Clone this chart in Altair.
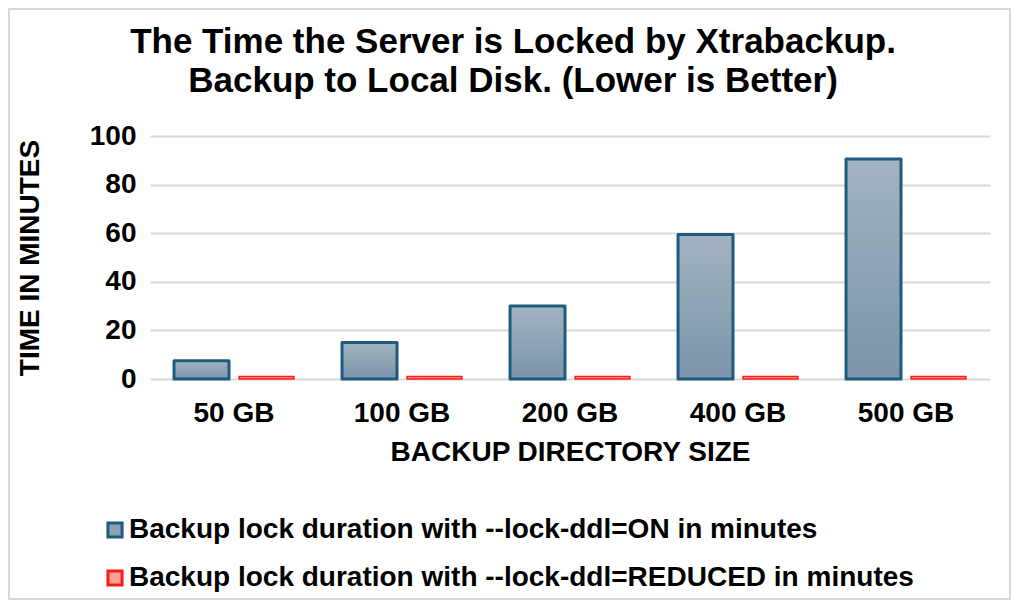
import altair as alt
import pandas as pd

sizes = ["50 GB", "100 GB", "200 GB", "400 GB", "500 GB"]
lock_on = [7.5, 15, 30, 59.5, 90.5]
lock_reduced = [1, 1, 1, 1, 1]
series_names = [
    "Backup lock duration with --lock-ddl=ON in minutes",
    "Backup lock duration with --lock-ddl=REDUCED in minutes",
]

rows = []
for s, v in zip(sizes, lock_on):
    rows.append({"size": s, "series": series_names[0], "minutes": v})
for s, v in zip(sizes, lock_reduced):
    rows.append({"size": s, "series": series_names[1], "minutes": v})
df = pd.DataFrame(rows)

FONT = "Liberation Sans"
FS = 28
W, H = 840, 243

x_enc = alt.X("size:N", sort=sizes, title="BACKUP DIRECTORY SIZE",
              scale=alt.Scale(paddingInner=0.286, paddingOuter=0.143),
              axis=alt.Axis(labelAngle=0, labelFontSize=FS, labelFontWeight="bold",
                            labelColor="#000000", labelPadding=20, ticks=False,
                            domain=False, titleFontSize=FS, titleFontWeight="bold",
                            titleColor="#000000", titlePadding=11))
xo_enc = alt.XOffset("series:N", sort=series_names,
                     scale=alt.Scale(paddingInner=0.154, paddingOuter=0))
y_enc = alt.Y("minutes:Q", title="TIME IN MINUTES",
              scale=alt.Scale(domain=[0, 100], nice=False),
              axis=alt.Axis(values=[0, 20, 40, 60, 80, 100], labelFontSize=FS,
                            labelFontWeight="bold", labelColor="#000000",
                            labelPadding=14, ticks=False, domain=False,
                            gridColor="#D9D9D9", gridWidth=2,
                            titleFontSize=FS, titleFontWeight="bold",
                            titleColor="#000000", titlePadding=45))

base = alt.Chart(df).encode(x=x_enc, xOffset=xo_enc, y=y_enc)

legend = alt.Legend(title=None, orient="none", legendX=-49, legendY=380,
                    direction="vertical", symbolType="square",
                    symbolSize=200, symbolStrokeWidth=3,
                    labelFontSize=FS, labelFontWeight="bold",
                    labelColor="#000000", labelLimit=950,
                    rowPadding=20, labelOffset=0)

bars = base.mark_bar(strokeWidth=1.5, strokeJoin="round").encode(
    fill=alt.Fill("series:N", sort=series_names,
                  scale=alt.Scale(domain=series_names, range=["#8DA2B5", "#F4A394"]),
                  legend=legend),
    stroke=alt.Stroke("series:N", sort=series_names,
                      scale=alt.Scale(domain=series_names, range=["#1D5C7D", "#FF1A1A"]),
                      legend=legend),
)

grad = base.transform_filter(alt.datum.series == series_names[0]).mark_bar(
    stroke="#1D5C7D", strokeWidth=3, strokeJoin="round",
    fill=alt.Gradient(gradient="linear",
                      stops=[alt.GradientStop(color="#A2B3C3", offset=0),
                             alt.GradientStop(color="#7B94A9", offset=1)],
                      x1=0, x2=0, y1=0, y2=1),
)

border = alt.Chart(pd.DataFrame({"k": [0]})).mark_rect(
    fill="transparent", stroke="#D9D9D9", strokeWidth=2
).encode(x=alt.value(-141), x2=alt.value(W + 20), y=alt.value(-127), y2=alt.value(H + 220))

chart = alt.layer(border, bars, grad).properties(
    width=W, height=H,
    title=alt.TitleParams(
        text=["The Time the Server is Locked by Xtrabackup.",
              "Backup to Local Disk. (Lower is Better)"],
        font=FONT, fontSize=35, fontWeight="bold", color="#000000",
        anchor="middle", dx=-57, dy=91, offset=0, lineHeight=39),
    padding={"left": 142, "top": 128, "right": 22, "bottom": 221},
    autosize=alt.AutoSizeParams(type="none"),
).configure(font=FONT).configure_view(stroke=None)

chart.save("out.html", embed_options={"renderer": "svg", "actions": False})
